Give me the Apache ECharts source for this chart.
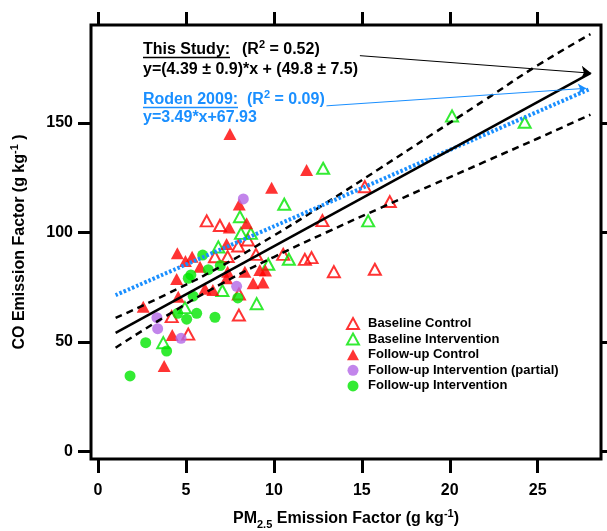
<!DOCTYPE html>
<html>
<head>
<meta charset="utf-8">
<script src="https://cdn.jsdelivr.net/npm/echarts@6/dist/echarts.min.js"></script>
<style>
  html, body { margin: 0; padding: 0; background: #fff; }
  #chart { width: 607px; height: 531px; }
</style>
</head>
<body>
<div id="chart"></div>
<script>
// CO vs PM2.5 emission factors, with regression lines

const FONT = "'Liberation Sans', Arial, Helvetica, sans-serif";
const BLUE = "#1a8fff";
const RED = "#ff0000";
const GREEN = "#00e600";
const PURPLE = "#b366e6";

const xTicks = [0, 5, 10, 15, 20, 25];
const yTicks = [0, 50, 100, 150];

const seriesNames = [
    "Baseline Control",
    "Baseline Intervention",
    "Follow-up Control",
    "Follow-up Intervention (partial)",
    "Follow-up Intervention"
];

// [PM2.5, CO]
const baselineControl = [
    [6.18, 105.3], [6.93, 103.2], [7.97, 93.8], [8.52, 96.6], [6.65, 88.9],
    [7.37, 89.0], [8.98, 90.0], [10.53, 90.0], [15.17, 120.9], [16.59, 114.1],
    [12.76, 105.4], [11.76, 87.7], [12.14, 88.5], [13.41, 82.1], [15.74, 83.2],
    [4.19, 61.6], [5.13, 53.6], [8.01, 62.3], [8.01, 71.9]
];
const baselineIntervention = [
    [8.07, 107.2], [8.13, 99.6], [8.69, 99.6], [6.84, 93.4], [10.59, 112.9],
    [12.80, 129.3], [15.36, 105.3], [20.13, 153.2], [24.26, 150.3], [9.68, 85.5],
    [10.85, 87.8], [7.07, 73.5], [9.02, 67.5], [3.71, 49.7], [4.94, 65.7]
];
const followupControl = [
    [7.5, 145.0], [9.87, 120.4], [11.86, 128.5], [8.03, 112.8], [7.46, 102.3],
    [8.45, 104.2], [7.31, 94.7], [4.51, 90.5], [5.35, 88.9], [4.97, 87.0],
    [5.80, 84.4], [7.37, 82.1], [8.35, 82.1], [9.20, 82.9], [9.52, 82.6],
    [9.38, 77.2], [8.82, 76.8], [7.31, 79.1], [4.47, 78.8], [4.56, 70.7],
    [6.08, 74.3], [6.53, 73.7], [2.57, 66.1], [4.22, 53.2], [3.76, 39.0]
];
const followupPartial = [
    [8.26, 115.3], [7.88, 75.4], [3.35, 61.1], [3.39, 56.1], [4.72, 51.7]
];
const followupIntervention = [
    [1.82, 34.5], [2.71, 49.7], [3.90, 45.9], [4.53, 63.1], [5.04, 60.4],
    [5.61, 63.1], [6.65, 61.3], [7.95, 70.1], [5.41, 70.9], [5.13, 79.1],
    [5.28, 80.6], [5.95, 89.7], [6.27, 83.0], [6.95, 84.9]
];

// fit lines, read at their ends
const thisStudyLine = [[1, 54.2], [28, 172.7]];
const rodenLine = [[1, 71.4], [28, 165.6]];
// confidence band of this study's fit
const bandX     = [1,    4,    7,    10,   13,    16,    19,    22,    25,    28];
const bandUpper = [61.0, 72.2, 84.6, 98.6, 113.6, 129.1, 144.8, 160.5, 176.3, 190.5];
const bandLower = [47.4, 62.5, 76.5, 88.8, 100.1, 111.0, 121.7, 132.3, 142.9, 153.8];

// annotation arrows: [from, to]
const studyArrow = [[14.89, 180.7], [28.05, 172.7]];
const rodenArrow = [[12.99, 157.8], [27.75, 165.8]];

const chart = echarts.init(document.getElementById("chart"));

const tickStyle = { color: "#000", width: 3 };
const labelStyle = { fontSize: 16, fontWeight: "bold", color: "#000", fontFamily: FONT };
const nameRich = {
    sub: { fontSize: 11, fontWeight: "bold", fontFamily: FONT, color: "#000", verticalAlign: "bottom", lineHeight: 22 },
    sup: { fontSize: 11, fontWeight: "bold", fontFamily: FONT, color: "#000", verticalAlign: "top", lineHeight: 22 }
};
const nameStyle = { fontSize: 16, fontWeight: "bold", color: "#000", fontFamily: FONT, lineHeight: 22, rich: nameRich };

function scatter(name, data, symbol, color, open) {
    return {
        name: name,
        type: "scatter",
        data: data,
        symbol: symbol,
        symbolSize: symbol === "circle" ? 11 : (open ? [12, 11] : [13, 12]),
        itemStyle: open
            ? { color: "rgba(255,255,255,0)", borderColor: color, borderWidth: 2 }
            : { color: color, borderWidth: 0 },
        emphasis: { disabled: true }
    };
}

function fitLine(data, style) {
    return {
        type: "line",
        data: data,
        symbol: "none",
        smooth: true,
        lineStyle: style,
        silent: true,
        z: 5
    };
}

const bandStyle = { color: "#000", width: 2.5, type: [7, 5] };

chart.setOption({
    animation: false,
    backgroundColor: "#fff",
    grid: {
        left: 91, top: 25, width: 510, height: 434,
        containLabel: false,
        outerBoundsMode: "none",
        show: true, borderColor: "#000", borderWidth: 3
    },
    legend: {
        data: seriesNames,
        orient: "vertical",
        left: 341,
        top: 312,
        itemWidth: 12,
        itemHeight: 11,
        itemGap: 2.6,
        textStyle: { fontSize: 13, fontWeight: "bold", color: "#000", fontFamily: FONT, padding: [0, 0, 0, 4] }
    },
    xAxis: [
        {
            type: "value", min: -0.4, max: 28.6, position: "bottom",
            axisLine: { show: false, onZero: false },
            splitLine: { show: false },
            axisTick: { show: true, customValues: xTicks, length: 14, lineStyle: tickStyle },
            axisLabel: Object.assign({ customValues: xTicks, margin: 24 }, labelStyle),
            name: "PM{sub|2.5} Emission Factor (g kg{sup|-1})",
            nameLocation: "middle",
            nameGap: 49,
            nameTextStyle: nameStyle
        },
        {
            type: "value", min: -0.4, max: 28.6, position: "top",
            axisLine: { show: false, onZero: false },
            splitLine: { show: false },
            axisTick: { show: true, customValues: xTicks, length: 13, lineStyle: tickStyle },
            axisLabel: { show: false }
        }
    ],
    yAxis: [
        {
            type: "value", min: -3.4, max: 194.7, position: "left",
            axisLine: { show: false, onZero: false },
            splitLine: { show: false },
            axisTick: { show: true, customValues: yTicks, length: 13, lineStyle: tickStyle },
            axisLabel: Object.assign({ customValues: yTicks, margin: 18 }, labelStyle),
            name: "CO Emission Factor (g kg{sup|-1} )",
            nameLocation: "middle",
            nameGap: 60,
            nameTextStyle: nameStyle
        },
        {
            type: "value", min: -3.4, max: 194.7, position: "right",
            axisLine: { show: false, onZero: false },
            splitLine: { show: false },
            axisTick: { show: true, customValues: yTicks, length: 9, lineStyle: tickStyle },
            axisLabel: { show: false }
        }
    ],
    series: [
        scatter(seriesNames[0], baselineControl, "triangle", RED, true),
        scatter(seriesNames[1], baselineIntervention, "triangle", GREEN, true),
        scatter(seriesNames[2], followupControl, "triangle", RED, false),
        scatter(seriesNames[3], followupPartial, "circle", PURPLE, false),
        scatter(seriesNames[4], followupIntervention, "circle", GREEN, false),
        fitLine(bandX.map((x, i) => [x, bandUpper[i]]), bandStyle),
        fitLine(bandX.map((x, i) => [x, bandLower[i]]), bandStyle),
        fitLine(rodenLine, { color: BLUE, width: 4, type: [2.5, 2] }),
        fitLine(thisStudyLine, { color: "#000", width: 2.5 }),
        {
            type: "lines",
            coordinateSystem: "cartesian2d",
            symbol: ["none", "arrow"],
            symbolSize: [1, 10],
            lineStyle: { color: "#000", width: 1, opacity: 1 },
            data: [{ coords: studyArrow }],
            silent: true,
            z: 6
        },
        {
            type: "lines",
            coordinateSystem: "cartesian2d",
            symbol: ["none", "arrow"],
            symbolSize: [1, 8],
            lineStyle: { color: BLUE, width: 1, opacity: 1 },
            data: [{ coords: rodenArrow }],
            silent: true,
            z: 6
        }
    ],
    graphic: [
        { type: "text", x: 143, y: 50, style: { text: "This Study:", fill: "#000", font: "bold 16px " + FONT, verticalAlign: "middle" } },
        { type: "line", shape: { x1: 143, y1: 57.5, x2: 230, y2: 57.5 }, style: { stroke: "#000", lineWidth: 1.5 } },
        { type: "text", x: 242, y: 50, style: {
            text: "(R{sup|2} = 0.52)", fill: "#000", font: "bold 16px " + FONT, verticalAlign: "middle", lineHeight: 22,
            rich: { sup: { fontSize: 11, fontWeight: "bold", fontFamily: FONT, fill: "#000", verticalAlign: "top", lineHeight: 22 } }
        } },
        { type: "text", x: 143, y: 70, style: { text: "y=(4.39 \u00b1 0.9)*x + (49.8 \u00b1 7.5)", fill: "#000", font: "bold 16px " + FONT, verticalAlign: "middle" } },
        { type: "text", x: 143, y: 100, style: { text: "Roden 2009:", fill: BLUE, font: "bold 16px " + FONT, verticalAlign: "middle" } },
        { type: "line", shape: { x1: 143, y1: 107.5, x2: 238, y2: 107.5 }, style: { stroke: BLUE, lineWidth: 1.5 } },
        { type: "text", x: 247, y: 100, style: {
            text: "(R{sup|2} = 0.09)", fill: BLUE, font: "bold 16px " + FONT, verticalAlign: "middle", lineHeight: 22,
            rich: { sup: { fontSize: 11, fontWeight: "bold", fontFamily: FONT, fill: BLUE, verticalAlign: "top", lineHeight: 22 } }
        } },
        { type: "text", x: 143, y: 118, style: { text: "y=3.49*x+67.93", fill: BLUE, font: "bold 16px " + FONT, verticalAlign: "middle" } }
    ]
});
</script>
</body>
</html>
